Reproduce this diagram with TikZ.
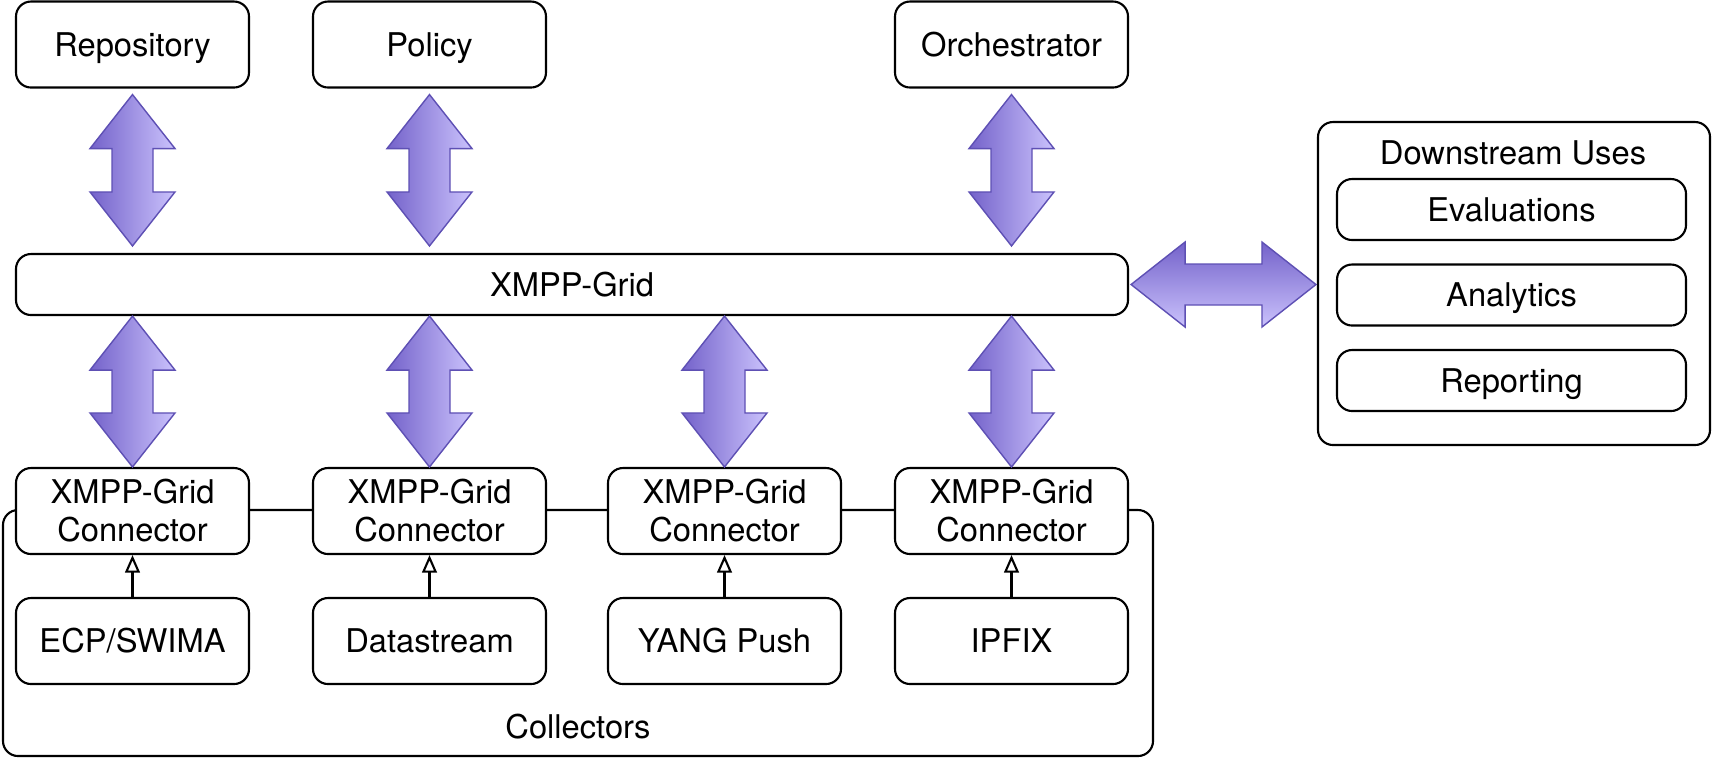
\documentclass[tikz,border=0pt]{standalone}
\usepackage{fontspec}
\setmainfont{TeX Gyre Heros}
\usepackage{tikz}
\usetikzlibrary{calc,arrows.meta}
\definecolor{fatdark}{RGB}{116,98,202}
\definecolor{fatlight}{RGB}{202,194,252}
\definecolor{fatedge}{RGB}{94,80,180}
\def\fathw{0.425cm}
\def\fatsw{0.205cm}
\def\fathl{0.54cm}
\def\vfat#1#2{\path[fatv] let \p1=#1, \p2=#2 in (\x1,\y1) -- (\x1+\fathw,\y1-\fathl) -- (\x1+\fatsw,\y1-\fathl) -- (\x1+\fatsw,\y2+\fathl) -- (\x1+\fathw,\y2+\fathl) -- (\x1,\y2) -- (\x1-\fathw,\y2+\fathl) -- (\x1-\fatsw,\y2+\fathl) -- (\x1-\fatsw,\y1-\fathl) -- (\x1-\fathw,\y1-\fathl) -- cycle;}
\def\hfat#1#2{\path[fath] let \p1=#1, \p2=#2 in (\x1,\y1) -- (\x1+\fathl,\y1+\fathw) -- (\x1+\fathl,\y1+\fatsw) -- (\x2-\fathl,\y1+\fatsw) -- (\x2-\fathl,\y1+\fathw) -- (\x2,\y1) -- (\x2-\fathl,\y1-\fathw) -- (\x2-\fathl,\y1-\fatsw) -- (\x1+\fathl,\y1-\fatsw) -- (\x1+\fathl,\y1-\fathw) -- cycle;}
\tikzset{
	box/.style={draw, line width=0.6pt, rounded corners=0.15cm, fill=white, font=\fontsize{9.3}{10.8}\selectfont, align=center, inner sep=0pt},
	oneline/.style={text height=0.86em, text depth=0.2em},
	conn/.style={box, minimum width=2.33cm, minimum height=0.86cm},
	comp/.style={conn, oneline},
	use/.style={box, oneline, minimum width=3.49cm, minimum height=0.61cm},
	fatv/.style={draw=fatedge, line width=0.4pt, left color=fatdark, right color=fatlight},
	fath/.style={draw=fatedge, line width=0.4pt, top color=fatdark, bottom color=fatlight},
	feed/.style={line width=0.6pt, -{Triangle[open, length=5pt, width=4.2pt]}},
	plain/.style={font=\fontsize{9.3}{10.8}\selectfont, inner sep=0pt, oneline}
}

\begin{document}
\begin{tikzpicture}
		%%%%% START %%%%%
		\useasboundingbox (0, 0) rectangle (17.12, -7.58);
		
		\node[comp] (repo) at (1.325, -0.445) {Repository};
		\node[comp] (policy) at (4.295, -0.445) {Policy};
		\node[comp] (orch) at (10.115, -0.445) {Orchestrator};
		
		\node[box, oneline, minimum width=11.12cm, minimum height=0.61cm] (grid) at (5.72, -2.845) {XMPP-Grid};
		
		\draw[line width=0.6pt, rounded corners=0.15cm] (0.03, -5.10) rectangle (11.53, -7.56);
		\node[plain] (collectorstitle) at (5.78, -7.27) {Collectors};
		
		\node[conn] (conn1) at (1.325, -5.11) {XMPP-Grid\\Connector};
		\node[conn] (conn2) at (4.295, -5.11) {XMPP-Grid\\Connector};
		\node[conn] (conn3) at (7.245, -5.11) {XMPP-Grid\\Connector};
		\node[conn] (conn4) at (10.115, -5.11) {XMPP-Grid\\Connector};
		
		\node[comp] (ecp) at (1.325, -6.41) {ECP/SWIMA};
		\node[comp] (datastream) at (4.295, -6.41) {Datastream};
		\node[comp] (yang) at (7.245, -6.41) {YANG Push};
		\node[comp] (ipfix) at (10.115, -6.41) {IPFIX};
		
		\draw[feed] (ecp) -- (conn1);
		\draw[feed] (datastream) -- (conn2);
		\draw[feed] (yang) -- (conn3);
		\draw[feed] (ipfix) -- (conn4);
		
		\node[box, minimum width=3.92cm, minimum height=3.23cm] (downstream) at (15.14, -2.835) {};
		\node[plain] (downstreamtitle) at (15.13, -1.53) {Downstream Uses};
		\node[use] (eval) at (15.115, -2.095) {Evaluations};
		\node[use] (analytics) at (15.115, -2.95) {Analytics};
		\node[use] (reporting) at (15.115, -3.805) {Reporting};
		
		\vfat{($(repo.south)+(0,-0.06)$)}{($(grid.north -| repo)+(0,0.07)$)}
		\vfat{($(policy.south)+(0,-0.06)$)}{($(grid.north -| policy)+(0,0.07)$)}
		\vfat{($(orch.south)+(0,-0.06)$)}{($(grid.north -| orch)+(0,0.07)$)}
		
		\vfat{(grid.south -| conn1)}{(conn1.north)}
		\vfat{(grid.south -| conn2)}{(conn2.north)}
		\vfat{(grid.south -| conn3)}{(conn3.north)}
		\vfat{(grid.south -| conn4)}{(conn4.north)}
		
		\hfat{($(grid.east)+(0.02,0)$)}{($(downstream.west)+(-0.01,0)$)}
		%%%%% END %%%%%
	\end{tikzpicture}
\end{document}
